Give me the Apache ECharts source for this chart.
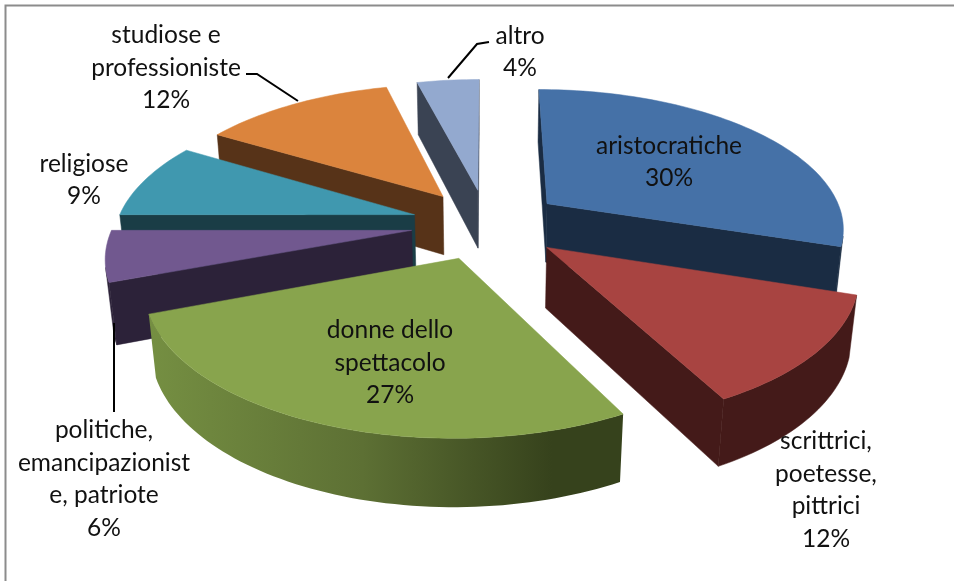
<!DOCTYPE html>
<html>
<head>
<meta charset="utf-8">
<style>
html, body { margin: 0; padding: 0; background: #fff; }
#main { width: 954px; height: 581px; }
</style>
<script src="https://cdn.jsdelivr.net/npm/echarts@6/dist/echarts.min.js"></script>
</head>
<body>
<div id="main"></div>
<script>
// dati (percentuali stimate, in etichetta arrotondate)
var categories = ['aristocratiche', 'scrittrici,\npoetesse,\npittrici', 'donne dello\nspettacolo', 'politiche,\nemancipazionist\ne, patriote', 'religiose', 'studiose e\nprofessioniste', 'altro'];
var values = [30, 12.3, 27, 5.7, 8.6, 12.4, 4];

// colori: faccia superiore e pareti
var topColors = ['#4571a7', '#a84441', '#88a44d', '#71588f', '#4098af', '#db843d', '#93a9cf'];
var wallColors = ['#1a2c43', '#441a19', '#354219', '#2c2239', '#1a3d46', '#573318', '#3a4353'];

// posizione delle etichette
var labelPos = [[669, 162], [826, 490], [390, 363], [104, 479], [84, 180], [166, 68], [520, 52]];

var myChart = echarts.init(document.getElementById('main'), null, {renderer: 'canvas'});

// proiezione prospettica del disco
var cx = 487, cy = 224, f = 298, cosT = 0.465, sinT = 0.885, D = 5.5;
var depth = 0.23, explode = 0.255;

function project(X, Y, Z) {
    var k = D / (D - (Y * sinT + Z * cosT));
    return [cx + f * X * k, cy + f * (Y * cosT - Z * sinT) * k];
}

var total = 0;
for (var i = 0; i < values.length; i++) {
    total += values[i];
}

var slices = [];
var acc = 0;
for (var i = 0; i < values.length; i++) {
    var a0 = acc / total * Math.PI * 2;
    acc += values[i];
    var a1 = acc / total * Math.PI * 2;
    var mid = (a0 + a1) / 2;
    slices.push({
        index: i, a0: a0, a1: a1, mid: mid,
        ox: explode * Math.sin(mid),
        oy: -explode * Math.cos(mid)
    });
}

// dal fondo verso chi guarda
var drawOrder = slices.slice().sort(function (a, b) {
    return -Math.cos(a.mid) + Math.cos(b.mid);
});

function signedArea(p) {
    var s = 0;
    for (var i = 0; i < p.length; i++) {
        var q = p[(i + 1) % p.length];
        s += p[i][0] * q[1] - q[0] * p[i][1];
    }
    return s;
}

function face(points, fill) {
    return {
        type: 'polygon',
        shape: {points: points},
        style: {fill: fill, stroke: typeof fill === 'string' ? fill : null, lineWidth: 0.5}
    };
}

function renderSlice(params, api) {
    var s = drawOrder[params.dataIndex];
    var wall = wallColors[s.index];
    var steps = Math.max(8, Math.round((s.a1 - s.a0) * 40));
    var outline = [[s.ox, s.oy]];
    for (var j = 0; j <= steps; j++) {
        var a = s.a0 + (s.a1 - s.a0) * j / steps;
        outline.push([s.ox + Math.sin(a), s.oy - Math.cos(a)]);
    }
    var topPts = outline.map(function (p) { return project(p[0], p[1], 0); });
    var botPts = outline.map(function (p) { return project(p[0], p[1], -depth); });
    var n = outline.length;

    function quad(a, b) {
        return [topPts[a], topPts[b], botPts[b], botPts[a]];
    }

    var children = [];
    // parete radiale iniziale
    if (signedArea(quad(0, 1)) < 0) {
        children.push(face(quad(0, 1), wall));
    }
    // parete radiale finale
    if (signedArea(quad(n - 1, 0)) < 0) {
        children.push(face(quad(n - 1, 0), wall));
    }
    // bordo esterno: solo i tratti rivolti verso chi guarda
    var upper = [], lower = [];
    for (var j = 1; j < n - 1; j++) {
        if (signedArea(quad(j, j + 1)) < 0) {
            if (!upper.length) {
                upper.push(topPts[j]);
                lower.push(botPts[j]);
            }
            upper.push(topPts[j + 1]);
            lower.push(botPts[j + 1]);
        }
    }
    if (upper.length) {
        var rimFill = wall;
        if (s.index === 2) {
            // il verde sfuma da sinistra a destra
            rimFill = new echarts.graphic.LinearGradient(0, 0, 1, 0, [
                {offset: 0, color: '#758f42'},
                {offset: 0.45, color: '#5d7034'},
                {offset: 0.85, color: '#36421c'},
                {offset: 1, color: '#36421c'}
            ]);
        }
        children.push(face(upper.concat(lower.reverse()), rimFill));
    }
    children.push(face(topPts, topColors[s.index]));
    return {type: 'group', children: children};
}

var graphics = [
    {type: 'polyline', z: 10, silent: true, shape: {points: [[5.5, 581], [5.5, 5.5], [954, 5.5]]}, style: {stroke: '#8c8c8c', lineWidth: 2, fill: null}},
    // linee guida
    {type: 'polyline', z: 10, silent: true, shape: {points: [[448, 78], [477, 44], [489, 42]]}, style: {stroke: '#000', lineWidth: 2, fill: null}},
    {type: 'polyline', z: 10, silent: true, shape: {points: [[246, 74], [257, 74], [298, 101]]}, style: {stroke: '#000', lineWidth: 2, fill: null}},
    {type: 'polyline', z: 10, silent: true, shape: {points: [[114, 323], [114, 412]]}, style: {stroke: '#000', lineWidth: 2, fill: null}}
];

for (var i = 0; i < categories.length; i++) {
    graphics.push({
        type: 'text',
        z: 11,
        silent: true,
        style: {
            x: labelPos[i][0],
            y: labelPos[i][1],
            text: categories[i] + '\n' + Math.round(values[i]) + '%',
            align: 'center',
            verticalAlign: 'middle',
            fill: '#111',
            font: '24.5px Lato',
            lineHeight: 32.5
        }
    });
}

var option = {
    animation: false,
    backgroundColor: '#fff',
    tooltip: {show: false},
    graphic: graphics,
    series: [
        {
            type: 'custom',
            coordinateSystem: 'none',
            silent: true,
            renderItem: renderSlice,
            data: drawOrder.map(function (s) { return values[s.index]; })
        }
    ]
};

myChart.setOption(option);
</script>
</body>
</html>
